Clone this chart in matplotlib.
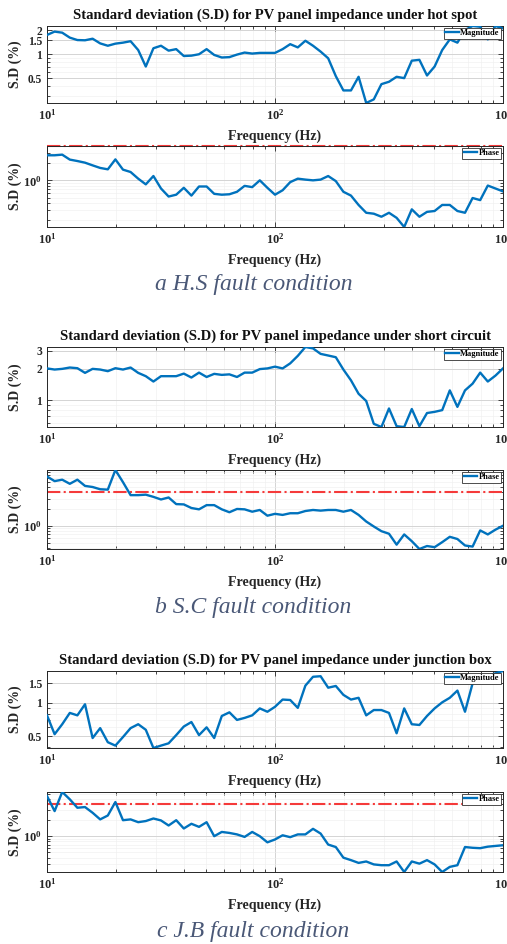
import numpy as np
import matplotlib
matplotlib.use("Agg")
import matplotlib.pyplot as plt
from matplotlib import ticker

plt.rcParams['font.family'] = ['Liberation Serif', 'DejaVu Serif']
plt.rcParams['font.weight'] = 'bold'
plt.rcParams['mathtext.fontset'] = 'custom'
plt.rcParams['mathtext.rm'] = 'Liberation Serif:bold'
plt.rcParams['mathtext.bf'] = 'Liberation Serif:bold'
plt.rcParams['mathtext.it'] = 'Liberation Serif:bold:italic'

# frequency grid (Hz)
freq_hz = [10.0, 10.8, 11.66, 12.59, 13.59, 14.68, 15.85, 17.11, 18.48, 19.95,
           21.54, 23.26, 25.12, 27.12, 29.29, 31.62, 34.15, 36.87, 39.81, 42.99,
           46.42, 50.12, 54.12, 58.43, 63.1, 68.13, 73.56, 79.43, 85.77, 92.61,
           100.0, 108.0, 116.6, 125.9, 135.9, 146.8, 158.5, 171.1, 184.8, 199.5,
           215.4, 232.6, 251.2, 271.2, 292.9, 316.2, 341.5, 368.7, 398.1, 429.9,
           464.2, 501.2, 541.2, 584.3, 631.0, 681.3, 735.6, 794.3, 857.7, 926.1,
           1000.0]

# S.D (%) - hot spot
hs_mag = [1.75, 1.93, 1.87, 1.62, 1.51, 1.50, 1.57, 1.37, 1.28, 1.36,
          1.40, 1.46, 1.13, 0.70, 1.19, 1.28, 1.11, 1.16, 0.95, 0.96,
          1.00, 1.16, 0.98, 0.91, 0.92, 0.99, 1.05, 1.02, 1.04, 1.04,
          1.04, 1.16, 1.34, 1.22, 1.48, 1.28, 1.08, 0.89, 0.53, 0.35,
          0.35, 0.52, 0.243, 0.27, 0.42, 0.45, 0.52, 0.50, 0.83, 0.85,
          0.54, 0.70, 1.13, 1.54, 1.40, 2.02, 2.27, 2.22, 1.54, 2.27,
          2.12]
hs_phase = [2.75, 2.75, 2.82, 2.31, 2.18, 2.04, 1.83, 1.65, 1.56, 2.33,
            1.54, 1.40, 1.07, 0.85, 1.19, 0.72, 0.52, 0.56, 0.74, 0.54,
            0.78, 0.78, 0.58, 0.56, 0.57, 0.63, 0.80, 0.76, 1.00, 0.74,
            0.56, 0.67, 0.93, 1.07, 1.03, 1.00, 1.03, 1.19, 0.97, 0.63,
            0.54, 0.37, 0.27, 0.26, 0.23, 0.27, 0.22, 0.152, 0.31, 0.23,
            0.28, 0.29, 0.37, 0.37, 0.29, 0.27, 0.49, 0.45, 0.81, 0.72,
            0.64]

# S.D (%) - short circuit
sc_mag = [2.02, 1.97, 2.00, 2.06, 2.03, 1.83, 2.00, 1.97, 1.90, 2.03,
          1.97, 2.06, 1.83, 1.70, 1.51, 1.70, 1.70, 1.70, 1.80, 1.65,
          1.84, 1.67, 1.79, 1.75, 1.77, 1.67, 1.84, 1.84, 1.99, 2.02,
          2.10, 2.02, 2.26, 2.67, 3.25, 3.15, 2.79, 2.69, 2.59, 1.97,
          1.55, 1.15, 0.98, 0.59, 0.55, 0.83, 0.56, 0.55, 0.82, 0.56,
          0.75, 0.77, 0.80, 1.24, 0.86, 1.24, 1.44, 1.84, 1.51, 1.72,
          2.02]
sc_phase = [7.55, 6.24, 6.62, 5.59, 6.62, 5.13, 4.90, 4.47, 4.40, 9.85,
            5.98, 3.51, 3.51, 3.58, 3.27, 2.94, 3.19, 2.43, 2.40, 2.07,
            1.96, 2.33, 2.33, 1.96, 1.74, 1.99, 1.96, 1.78, 1.91, 1.51,
            1.63, 1.56, 1.67, 1.67, 1.83, 1.91, 1.86, 1.91, 1.91, 1.78,
            1.91, 1.56, 1.19, 0.97, 0.80, 0.72, 0.46, 0.70, 0.53, 0.385,
            0.435, 0.415, 0.51, 0.635, 0.58, 0.445, 0.425, 0.825, 0.70, 0.85,
            1.00]

# S.D (%) - junction box
jb_mag = [0.77, 0.52, 0.64, 0.81, 0.77, 0.97, 0.48, 0.59, 0.44, 0.41,
          0.49, 0.59, 0.64, 0.57, 0.39, 0.41, 0.43, 0.51, 0.61, 0.67,
          0.51, 0.60, 0.48, 0.76, 0.82, 0.70, 0.73, 0.77, 0.89, 0.83,
          0.92, 1.07, 1.06, 0.90, 1.43, 1.72, 1.74, 1.37, 1.42, 1.18,
          1.07, 1.11, 0.77, 0.86, 0.86, 0.81, 0.53, 0.89, 0.64, 0.63,
          0.76, 0.89, 1.01, 1.11, 1.29, 0.83, 1.50, 1.62, 1.75, 1.85,
          1.94]
jb_phase = [5.56, 2.92, 6.60, 4.83, 3.37, 3.47, 2.72, 2.05, 2.42, 4.30,
            1.98, 2.05, 1.82, 1.91, 2.13, 1.96, 1.58, 1.98, 1.39, 1.70,
            1.49, 1.82, 1.00, 1.20, 1.15, 1.08, 0.97, 1.20, 1.00, 0.77,
            0.87, 1.04, 0.96, 1.08, 1.08, 1.37, 1.12, 0.70, 0.63, 0.40,
            0.36, 0.32, 0.34, 0.30, 0.29, 0.29, 0.34, 0.217, 0.34, 0.31,
            0.36, 0.30, 0.217, 0.27, 0.29, 0.63, 0.61, 0.60, 0.64, 0.66,
            0.68]

phase_limit = 4.0

titles = ["Standard deviation (S.D) for PV panel impedance under hot spot",
          "Standard deviation (S.D) for PV panel impedance under short circuit",
          "Standard deviation (S.D) for PV panel impedance under junction box"]
captions = ["a H.S fault condition", "b S.C fault condition", "c J.B fault condition"]
mag_ticks = [[0.5, 1, 1.5, 2], [1, 2, 3], [0.5, 1, 1.5]]

BLUE = '#0072BD'
RED = '#F53A3A'
AXC = '#262626'

W, H = 507, 944
fig = plt.figure(figsize=(W / 100, H / 100), dpi=100)


def rect(top, bottom):
    return [47 / W, 1 - bottom / H, 456 / W, (bottom - top) / H]


def style_axes(ax, h_px):
    ax.set_xscale('log')
    ax.set_yscale('log')
    ax.set_xlim(10, 1000)
    ax.xaxis.set_major_locator(ticker.FixedLocator([10, 100, 1000]))
    ax.xaxis.set_major_formatter(ticker.FuncFormatter(
        lambda v, _: r'$\mathbf{10^{%d}}$' % round(np.log10(v))))
    ax.xaxis.set_minor_locator(ticker.LogLocator(base=10, subs=np.arange(2, 10)))
    ax.xaxis.set_minor_formatter(ticker.NullFormatter())
    ax.tick_params(which='both', direction='in', top=True, right=True,
                   colors=AXC, labelsize=9, width=0.6)
    ax.tick_params(which='major', length=3.5)
    ax.tick_params(which='minor', length=2)
    ax.grid(which='major', color='#d4d4d4', lw=0.7)
    ax.grid(which='minor', color='#eeeeee', lw=0.4)
    ax.set_axisbelow(True)
    for s in ax.spines.values():
        s.set_color(AXC)
        s.set_linewidth(0.7)
    ax.set_xlabel('Frequency (Hz)', fontsize=10, fontweight='bold', color=AXC)
    ax.xaxis.set_label_coords(0.5, -27 / h_px)
    ax.set_ylabel('S.D (%)', fontsize=10, fontweight='bold', color=AXC)
    ax.yaxis.set_label_coords(-0.055, 0.5)


def add_legend(ax, label):
    leg = ax.legend(loc='upper right', fontsize=6, handlelength=1.6,
                    handletextpad=0.2, borderpad=0.15, borderaxespad=0.25,
                    fancybox=False, edgecolor='#303030', framealpha=1)
    leg.get_frame().set_linewidth(0.6)


mag_data = [hs_mag, sc_mag, jb_mag]
phase_data = [hs_phase, sc_phase, jb_phase]
mag_box = [(26, 103), (347, 427), (671, 748)]
phase_box = [(146, 227), (470, 549), (792, 872)]
caption_y = [285, 607, 932]

for i in range(3):
    # magnitude panel
    top, bot = mag_box[i]
    ax = fig.add_axes(rect(top, bot))
    ax.plot(freq_hz, mag_data[i], color=BLUE, lw=1.7, label='Magnitude', zorder=3)
    style_axes(ax, bot - top)
    ax.set_ylim(min(mag_data[i]), max(mag_data[i]))
    ax.yaxis.set_major_locator(ticker.FixedLocator(mag_ticks[i]))
    ax.yaxis.set_major_formatter(ticker.FuncFormatter(lambda v, _: '%g' % v))
    ax.yaxis.set_minor_locator(ticker.LogLocator(base=10, subs=np.arange(2, 10)))
    ax.yaxis.set_minor_formatter(ticker.NullFormatter())
    ax.tick_params(axis='y', labelsize=8.3)
    ax.set_title(titles[i], fontsize=10.5, fontweight='bold', color='#111111', pad=5)
    add_legend(ax, 'Magnitude')

    # phase panel
    top, bot = phase_box[i]
    ax = fig.add_axes(rect(top, bot))
    ax.plot(freq_hz, phase_data[i], color=BLUE, lw=1.7, label='Phase', zorder=3)
    ax.axhline(phase_limit, color=RED, ls='-.', lw=1.5, zorder=2, clip_on=False)
    style_axes(ax, bot - top)
    ax.set_ylim(min(phase_data[i]), max(max(phase_data[i]), phase_limit))
    ax.yaxis.set_major_locator(ticker.LogLocator(base=10))
    ax.yaxis.set_major_formatter(ticker.FuncFormatter(
        lambda v, _: r'$\mathbf{10^{%d}}$' % round(np.log10(v))))
    ax.yaxis.set_minor_locator(ticker.LogLocator(base=10, subs=np.arange(2, 10)))
    ax.yaxis.set_minor_formatter(ticker.NullFormatter())
    add_legend(ax, 'Phase')

    fig.text(0.5, 1 - caption_y[i] / H, captions[i], ha='center', va='center',
             fontsize=17, style='italic', fontweight='normal', color='#4a5877')

fig.savefig('out.png', dpi=100)
